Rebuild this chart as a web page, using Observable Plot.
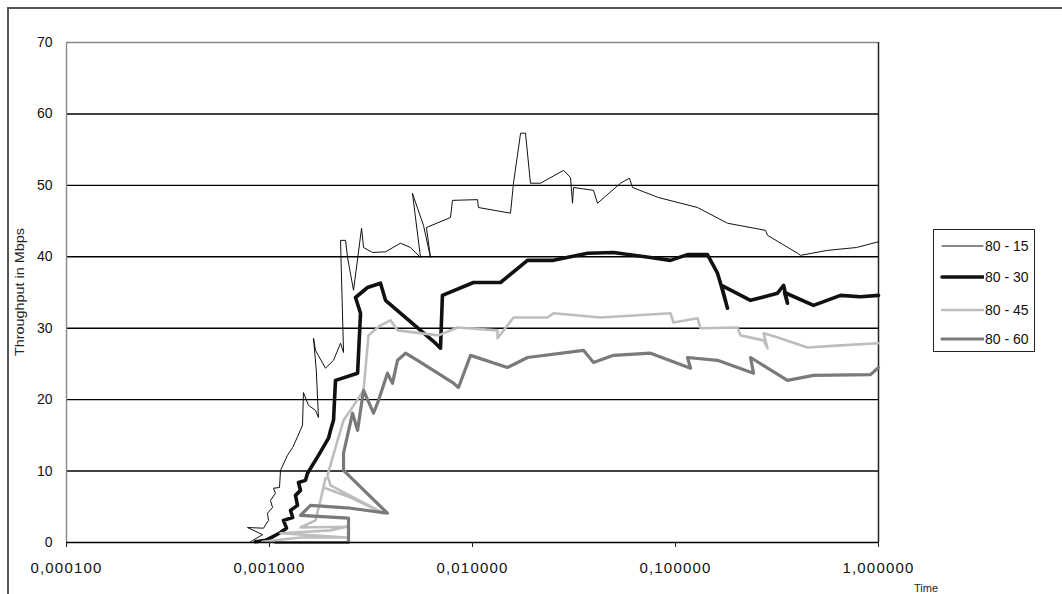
<!DOCTYPE html>
<html>
<head>
<meta charset="utf-8">
<script src="https://cdn.jsdelivr.net/npm/d3@7"></script>
<script src="https://cdn.jsdelivr.net/npm/@observablehq/plot@0.6"></script>
<style>
  html, body { margin: 0; padding: 0; background: #fff; }
  #wrap { position: relative; width: 1062px; height: 594px; overflow: hidden; font-family: "Liberation Sans", Arial, sans-serif; }
  #wrap > svg { position: absolute; left: 0; top: 0; }
  #wrap g[aria-label="x-axis tick label"] text { letter-spacing: 1.2px; }
  .frameTop { position: absolute; left: 7px; top: 7px; width: 1060px; height: 0; border-top: 2px solid #555; }
  .frameLeft { position: absolute; left: 7px; top: 7px; width: 0; height: 600px; border-left: 2px solid #555; }
  .ylab { position: absolute; left: 20px; top: 292px; transform: translate(-50%, -50%) rotate(-90deg) scaleX(1.2); font-size: 12px; color: #222; white-space: nowrap; }
  .xlab { position: absolute; left: 926px; top: 588px; transform: translate(-50%, -50%); font-size: 11px; color: #222; }
  #legend { position: absolute; left: 933px; top: 229px; width: 102px; height: 123px; border: 1.5px solid #222; box-sizing: border-box; background: #fff; }
  #legend .row { position: absolute; left: 0; height: 20px; display: flex; align-items: center; }
  #legend .row span { font-size: 14px; color: #111; margin-left: 1px; }
</style>
</head>
<body>
<div id="wrap">
  <div class="frameTop"></div>
  <div class="frameLeft"></div>
  <div class="ylab">Throughput in Mbps</div>
  <div class="xlab">Time</div>
  <div id="legend"></div>
</div>
<script>
// Series names
const seriesNames = ["80 - 15", "80 - 30", "80 - 45", "80 - 60"];

// X tick values (time) and Y tick values
const xTicks = [0.0001, 0.001, 0.01, 0.1, 1];
const yTicks = [0, 10, 20, 30, 40, 50, 60, 70];

// 80 - 15
const t15 = [0.000806,0.000924,0.000779,0.000934,0.000989,0.000977,0.001035,0.001011,0.00107,0.001046,0.00112,0.001133,0.001226,0.0013,0.001374,0.001454,0.00147,0.001556,0.001685,0.001743,0.0017,0.001647,0.001685,0.001887,0.002067,0.002238,0.002316,0.002238,0.00237,0.002424,0.002594,0.002841,0.002906,0.003217,0.003728,0.004418,0.004952,0.005545,0.00506,0.00536,0.005737,0.00621,0.00593,0.00779,0.00797,0.01058,0.0107,0.01539,0.01592,0.01725,0.01824,0.0193,0.02165,0.02808,0.0304,0.03109,0.03145,0.03945,0.04129,0.0536,0.0593,0.06141,0.0824,0.1283,0.1803,0.2776,0.2841,0.399,0.4129,0.561,0.779,1.0];
const v15 = [0.1,1.1,2.1,2.0,3.1,4.1,4.9,5.9,6.9,7.6,7.7,10.1,12.2,13.3,14.8,16.4,21.0,19.2,18.5,17.5,24.1,28.6,26.9,24.4,25.5,27.9,26.6,42.3,42.3,39.9,35.3,44.0,41.3,40.6,40.7,41.9,41.3,39.9,48.9,46.8,44.4,39.9,44.1,45.5,47.9,48.0,46.9,46.1,50.3,57.3,57.3,50.3,50.3,52.1,51.1,47.5,49.7,49.3,47.5,50.3,51.0,49.7,48.3,46.9,44.7,43.7,43.0,40.5,40.2,40.9,41.3,42.1];

// 80 - 30
const t30 = [0.000853,0.000956,0.001035,0.001133,0.001213,0.001172,0.0013,0.001269,0.001374,0.001343,0.001421,0.001389,0.001504,0.001539,0.001743,0.001953,0.001998,0.002067,0.002114,0.002716,0.002808,0.002653,0.00304,0.003522,0.003728,0.00657,0.006955,0.00711,0.01011,0.01374,0.01866,0.02506,0.03686,0.04952,0.0753,0.0944,0.1146,0.1437,0.161,0.1666,0.1803,0.1685,0.2342,0.318,0.341,0.356,0.3445,0.4784,0.65,0.815,1.0];
const v30 = [0.1,0.3,0.8,1.4,2.0,3.1,3.5,4.5,5.2,6.6,7.3,8.4,8.7,9.7,12.2,14.6,15.7,17.1,22.7,23.7,32.1,34.3,35.7,36.3,33.9,27.9,27.2,34.6,36.4,36.4,39.5,39.5,40.5,40.6,39.9,39.5,40.3,40.3,37.7,36.3,32.8,36.0,33.9,34.9,36.0,33.5,35.0,33.2,34.6,34.4,34.6];

// 80 - 45
const t45 = [0.000924,0.001421,0.002396,0.001133,0.001998,0.002396,0.001421,0.001685,0.001783,0.001887,0.001845,0.002506,0.003645,0.001998,0.00193,0.002165,0.002316,0.002506,0.002906,0.003075,0.003522,0.003945,0.00427,0.0068,0.00844,0.01328,0.01328,0.01592,0.02342,0.02506,0.0427,0.0944,0.0978,0.1283,0.1328,0.2021,0.209,0.2716,0.2841,0.2716,0.311,0.4467,0.65,1.0];
const v45 = [0.1,0.7,0.7,1.3,1.7,2.2,2.1,3.1,5.9,9.0,7.7,6.3,4.1,8.0,9.4,14.3,17.1,18.5,21.3,29.0,30.4,31.1,29.7,29.0,30.1,29.7,28.6,31.5,31.5,32.1,31.5,32.1,30.8,31.4,30.0,30.1,29.0,28.3,27.2,29.3,28.8,27.3,27.6,27.9];

// 80 - 60
const t60 = [0.00107,0.00245,0.00245,0.001421,0.001592,0.002506,0.00381,0.002316,0.002316,0.002565,0.002716,0.002906,0.003253,0.003445,0.00381,0.004036,0.00427,0.004675,0.00536,0.00806,0.00853,0.00978,0.01487,0.01866,0.03522,0.03945,0.04952,0.0753,0.1186,0.1146,0.161,0.2424,0.2342,0.356,0.4784,0.9133,1.0];
const v60 = [0,0,3.4,3.8,5.2,4.8,4.1,10.1,12.5,18.1,15.7,21.3,18.1,19.9,23.7,22.3,25.5,26.5,25.5,22.3,21.7,26.2,24.5,25.9,26.9,25.2,26.2,26.5,24.4,25.9,25.5,23.7,25.9,22.7,23.4,23.5,24.5];

const styles = [
  {stroke: "#111", strokeWidth: 1},
  {stroke: "#111", strokeWidth: 3.6},
  {stroke: "#bdbdbd", strokeWidth: 2.6},
  {stroke: "#7a7a7a", strokeWidth: 3.2}
];

const toRows = (ts, vs) => ts.map((t, i) => ({t, v: vs[i]}));
const series = [toRows(t15, v15), toRows(t30, v30), toRows(t45, v45), toRows(t60, v60)];

const fmt = d => d.toFixed(6).replace(".", ",");

const chart = Plot.plot({
  width: 1062,
  height: 594,
  marginLeft: 66,
  marginRight: 184,
  marginTop: 42,
  marginBottom: 52,
  style: {fontFamily: "'Liberation Sans', Arial, sans-serif", background: "transparent", color: "#111"},
  x: {type: "log", domain: [0.0001, 1]},
  y: {domain: [0, 70]},
  marks: [
    Plot.ruleY(yTicks.filter(d => d > 0 && d < 70), {stroke: "#000", strokeWidth: 1.4}),
    Plot.ruleY([70], {stroke: "#888", strokeWidth: 1.4}),
    Plot.ruleX([1], {stroke: "#222", strokeWidth: 1.5}),
    Plot.ruleX([0.0001], {stroke: "#888", strokeWidth: 1.4}),
    ...series.map((rows, i) => Plot.line(rows, {x: "t", y: "v", stroke: styles[i].stroke, strokeWidth: styles[i].strokeWidth, strokeLinejoin: "round", strokeLinecap: "round"})),
    Plot.ruleY([0], {stroke: "#000", strokeWidth: 1.6}),
    Plot.axisX({ticks: xTicks, tickFormat: fmt, tickSize: 5, tickPadding: 15, fontSize: 15, label: null, stroke: "#222"}),
    Plot.axisY({ticks: yTicks, tickSize: 0, tickPadding: 14, fontSize: 14, label: null})
  ]
});
document.getElementById("wrap").insertBefore(chart, document.getElementById("wrap").firstChild);

// Legend
const legend = document.getElementById("legend");
const rowTops = [6, 37, 70, 99];
seriesNames.forEach((name, i) => {
  const row = document.createElement("div");
  row.className = "row";
  row.style.top = rowTops[i] + "px";
  row.style.left = "6px";
  const svgNS = "http://www.w3.org/2000/svg";
  const s = document.createElementNS(svgNS, "svg");
  s.setAttribute("width", 44);
  s.setAttribute("height", 20);
  s.style.position = "static";
  const ln = document.createElementNS(svgNS, "line");
  ln.setAttribute("x1", 2); ln.setAttribute("x2", 43);
  ln.setAttribute("y1", 10); ln.setAttribute("y2", 10);
  ln.setAttribute("stroke", styles[i].stroke);
  ln.setAttribute("stroke-width", styles[i].strokeWidth);
  ln.setAttribute("stroke-linecap", "round");
  s.appendChild(ln);
  row.appendChild(s);
  const sp = document.createElement("span");
  sp.textContent = name;
  row.appendChild(sp);
  legend.appendChild(row);
});
</script>
</body>
</html>
